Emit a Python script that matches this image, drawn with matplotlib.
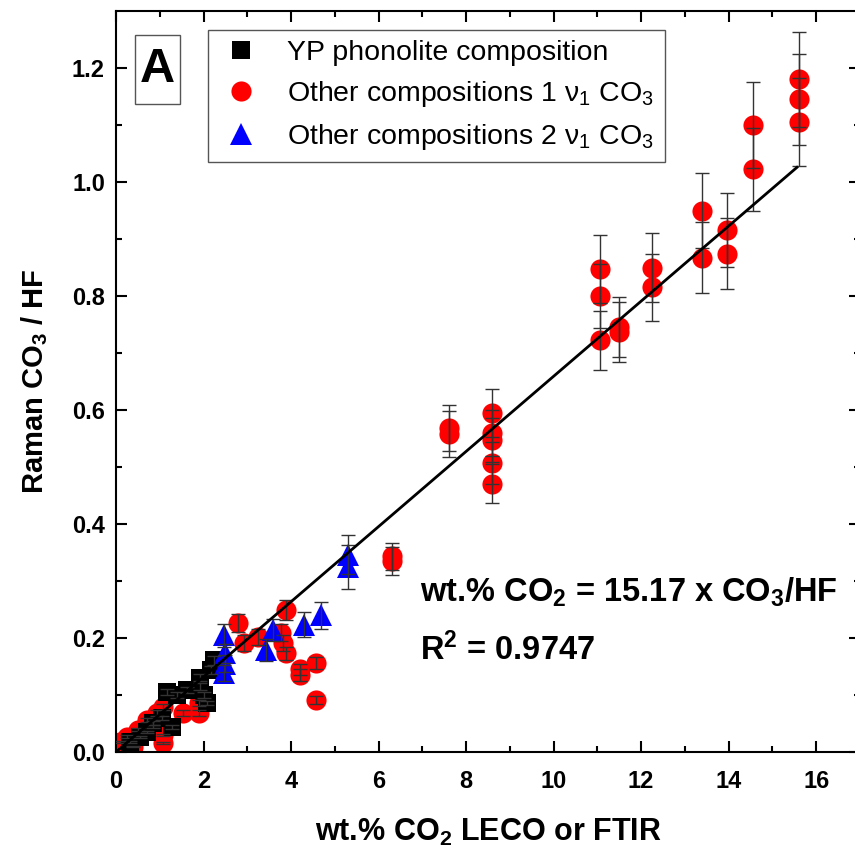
import matplotlib
matplotlib.use("Agg")
import matplotlib.pyplot as plt
import numpy as np
from matplotlib.patches import Rectangle

plt.rcParams['font.family'] = ['Liberation Sans', 'DejaVu Sans']
plt.rcParams['mathtext.default'] = 'regular'

# YP phonolite composition
yp_x = [2.23, 2.16, 1.93, 1.93, 1.63, 1.17, 2.09, 1.29, 0.85, 0.55, 0.32, 1.05, 0.70, 1.40, 2.00]
yp_y = [0.161, 0.144, 0.130, 0.115, 0.109, 0.105, 0.086, 0.044, 0.051, 0.026, 0.018, 0.060, 0.035, 0.100, 0.100]
yp_err = [0.008, 0.007, 0.006, 0.006, 0.005, 0.005, 0.004, 0.003, 0.003, 0.002, 0.002, 0.003, 0.002, 0.005, 0.005]

# Other compositions 1 nu1 CO3
oc1_x = [15.6, 15.6, 15.6, 14.55, 14.55, 13.4, 13.4, 13.95, 13.95, 12.25, 12.25,
         11.5, 11.5, 11.05, 11.05, 11.05, 8.6, 8.6, 8.6, 8.6, 8.6, 7.6, 7.6, 6.3, 6.3,
         3.88, 2.78, 2.92, 3.24, 3.77, 3.81, 3.88, 4.2, 4.2, 4.57, 4.57,
         1.9, 1.9, 1.52, 1.08, 1.08, 1.08, 0.94, 0.71, 0.51, 0.25, 0.09, 0.39, 0.85]
oc1_y = [1.180, 1.145, 1.105, 1.100, 1.022, 0.950, 0.867, 0.916, 0.874, 0.850, 0.815,
         0.746, 0.737, 0.847, 0.800, 0.722, 0.595, 0.560, 0.547, 0.507, 0.471, 0.568, 0.558, 0.343, 0.335,
         0.249, 0.226, 0.191, 0.202, 0.209, 0.191, 0.173, 0.145, 0.135, 0.156, 0.091,
         0.086, 0.068, 0.068, 0.079, 0.016, 0.030, 0.068, 0.056, 0.039, 0.027, 0.018, 0.009, 0.045]
oc1_err = [0.083, 0.080, 0.077, 0.075, 0.073, 0.066, 0.062, 0.065, 0.062, 0.060, 0.058,
           0.053, 0.052, 0.060, 0.057, 0.051, 0.042, 0.040, 0.039, 0.036, 0.034, 0.040, 0.040, 0.024, 0.024,
           0.018, 0.016, 0.014, 0.014, 0.015, 0.014, 0.012, 0.010, 0.010, 0.011, 0.007,
           0.006, 0.005, 0.005, 0.006, 0.002, 0.002, 0.005, 0.004, 0.003, 0.002, 0.002, 0.001, 0.003]

# Other compositions 2 nu1 CO3
oc2_x = [5.3, 5.3, 4.69, 4.3, 3.58, 3.42, 2.46, 2.5, 2.46, 2.5]
oc2_y = [0.346, 0.325, 0.240, 0.223, 0.214, 0.179, 0.205, 0.173, 0.139, 0.155]
oc2_err = [0.034, 0.039, 0.024, 0.022, 0.020, 0.019, 0.020, 0.017, 0.014, 0.015]

# linear fit: wt.% CO2 = 15.17 x CO3/HF
slope = 15.17
fit_x = [0.0, 15.56]

fig = plt.figure(figsize=(8.55, 8.51), dpi=100)
# right spine sits just past the image edge, as in the original crop
ax = fig.add_axes([116 / 855, 99 / 851, 744 / 855, 741 / 851])

ebkw = dict(fmt='none', ecolor='#333333', elinewidth=1.0, capsize=5, capthick=1.0, zorder=4)

ax.plot(oc1_x, oc1_y, 'o', color='#ff0000', markersize=14.5, markeredgewidth=0,
        label='Other compositions 1 ν$_1$ CO$_3$', zorder=2)
ax.errorbar(oc1_x, oc1_y, yerr=oc1_err, **ebkw)
ax.plot(yp_x, yp_y, 's', color='black', markersize=13.5, markeredgewidth=0,
        label='YP phonolite composition', zorder=3)
ax.errorbar(yp_x, yp_y, yerr=yp_err, **ebkw)
ax.plot(oc2_x, oc2_y, '^', color='#0000ff', markersize=16, markeredgewidth=0,
        label='Other compositions 2 ν$_1$ CO$_3$', zorder=3)
ax.errorbar(oc2_x, oc2_y, yerr=oc2_err, **ebkw)

fx = np.array(fit_x)
ax.plot(fx, fx / slope, color='black', lw=2, zorder=5)

ax.set_xlim(0, 17)
ax.set_ylim(0, 1.3)
ax.set_xticks(np.arange(0, 17, 2))
ax.set_xticks(np.arange(1, 17, 2), minor=True)
ax.set_yticks(np.arange(0, 1.21, 0.2))
ax.set_yticks(np.arange(0.1, 1.3, 0.2), minor=True)
ax.set_yticklabels(['%.1f' % v for v in np.arange(0, 1.21, 0.2)])

for s in ax.spines.values():
    s.set_linewidth(1.5)
ax.tick_params(which='both', direction='in', top=True, right=True, width=1.5)
ax.tick_params(which='major', length=8, labelsize=17, pad=8)
ax.tick_params(axis='x', which='major', pad=13)
ax.tick_params(which='minor', length=4.5)
for lab in ax.get_xticklabels() + ax.get_yticklabels():
    lab.set_fontweight('bold')

ax.set_xlabel('wt.% CO$_2$ LECO or FTIR', fontsize=22, fontweight='bold', labelpad=17)
ax.set_ylabel('Raman CO$_3$ / HF', fontsize=21, fontweight='bold', labelpad=16)

handles, labels = ax.get_legend_handles_labels()
order = [1, 0, 2]
leg = ax.legend([handles[i] for i in order], [labels[i] + ' ' for i in order],
                loc='upper left', bbox_to_anchor=(0.124, 0.974), borderaxespad=0,
                fontsize=20.5, fancybox=False, edgecolor='#555555', framealpha=1,
                handletextpad=0.8, labelspacing=0.45, handlelength=1.6, borderpad=0.35)
leg.get_frame().set_linewidth(1.0)

ax.add_patch(Rectangle((0.0257, 0.8745), 0.0608, 0.0931, transform=ax.transAxes,
                       fill=False, edgecolor='#555555', lw=1.0, zorder=6))
ax.text(0.0561, 0.921, 'A', transform=ax.transAxes, ha='center', va='center',
        fontsize=35, fontweight='bold', zorder=7)

ax.text(6.94, 0.281, 'wt.% CO$_2$ = 15.17 x CO$_3$/HF', fontsize=23.5, fontweight='bold',
        ha='left', va='center', zorder=7)
ax.text(6.94, 0.179, 'R$^2$ = 0.9747', fontsize=23.5, fontweight='bold',
        ha='left', va='center', zorder=7)

fig.savefig('out.png', dpi=100)
